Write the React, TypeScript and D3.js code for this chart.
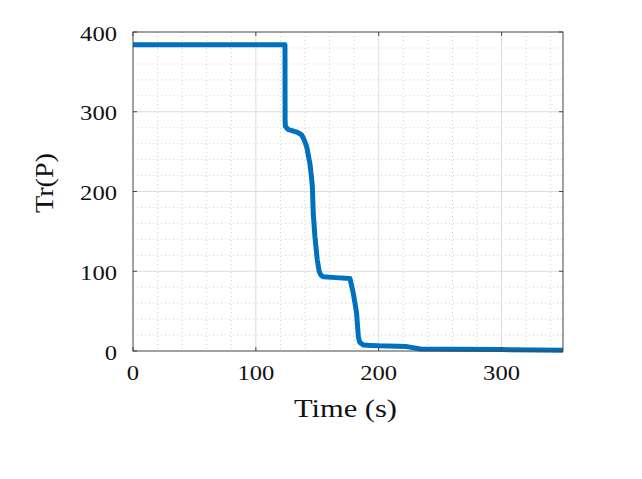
import React from "react";
import * as d3 from "d3";

const times = [0, 123.3, 123.7, 123.8, 124, 126, 130, 134, 137.3, 139.5, 141.4, 143, 144, 145, 146, 146.7, 148.1, 150, 151.6, 153, 155, 165, 176.6, 177.5, 179.3, 182, 183.4, 184.5, 187.5, 193, 200, 215, 223, 234, 260, 300, 350];
const values = [384, 384, 384, 290, 282, 278, 276, 274, 271, 264, 256, 243, 235, 222, 206, 173, 143, 114, 99.5, 95, 93, 92, 91, 85, 72.5, 47.5, 18, 11, 7.5, 7, 6.5, 6, 5.5, 2.5, 2.2, 1.8, 1];
const xTicks = [0, 100, 200, 300];
const yTicks = [0, 100, 200, 300, 400];
const xMinor = d3.range(0, 351, 20);
const yMinor = d3.range(0, 401, 20);

export default function App() {
  const W = 642, H = 479;
  const L = 133, R = 563, T = 32, B = 351;
  const x = d3.scaleLinear().domain([0, 350]).range([L, R]);
  const y = d3.scaleLinear().domain([0, 400]).range([B, T]);
  const pts: [number, number][] = times.map((t, i) => [t, values[i]]);
  const line = d3.line<[number, number]>().x(d => x(d[0])).y(d => y(d[1]));
  const font = "'Liberation Serif', 'DejaVu Serif', serif";
  const lw = (v: number) => String(v).length * 12.3;
  return (
    <svg width={W} height={H} style={{ position: "absolute", left: 0, top: 0, background: "#fff" }}>
      <rect x={0} y={0} width={W} height={H} fill="#fff" />
      {xMinor.filter(v => v % 100 !== 0).map(v => (
        <line key={"xm" + v} x1={x(v)} x2={x(v)} y1={T} y2={B} stroke="#cfcfcf" strokeWidth={1} strokeDasharray="1,3" />
      ))}
      {yMinor.filter(v => v % 100 !== 0).map(v => (
        <line key={"ym" + v} x1={L} x2={R} y1={y(v)} y2={y(v)} stroke="#cfcfcf" strokeWidth={1} strokeDasharray="1,3" />
      ))}
      {xTicks.filter(v => v > 0).map(v => (
        <line key={"xg" + v} x1={x(v)} x2={x(v)} y1={T} y2={B} stroke="#dcdcdc" strokeWidth={1} />
      ))}
      {yTicks.filter(v => v > 0 && v < 400).map(v => (
        <line key={"yg" + v} x1={L} x2={R} y1={y(v)} y2={y(v)} stroke="#dcdcdc" strokeWidth={1} />
      ))}
      <path d={line(pts) || ""} fill="none" stroke="#0072BD" strokeWidth={5} strokeLinejoin="round" />
      <rect x={L} y={T} width={R - L} height={B - T} fill="none" stroke="#444" strokeWidth={1} />
      {xTicks.map(v => (
        <g key={"xt" + v}>
          <line x1={x(v)} x2={x(v)} y1={B} y2={B - 4} stroke="#444" />
          <line x1={x(v)} x2={x(v)} y1={T} y2={T + 4} stroke="#444" />
          <text x={x(v)} y={380} textAnchor="middle" fontFamily={font} fontSize={22} fill="#111"
            textLength={lw(v)} lengthAdjust="spacingAndGlyphs">{v}</text>
        </g>
      ))}
      {yTicks.map(v => (
        <g key={"yt" + v}>
          <line x1={L} x2={L + 4} y1={y(v)} y2={y(v)} stroke="#444" />
          <line x1={R} x2={R - 4} y1={y(v)} y2={y(v)} stroke="#444" />
          <text x={117} y={y(v) + 8.5} textAnchor="end" fontFamily={font} fontSize={22} fill="#111"
            textLength={lw(v)} lengthAdjust="spacingAndGlyphs">{v}</text>
        </g>
      ))}
      <text x={345.5} y={417} textAnchor="middle" fontFamily={font} fontSize={25} fill="#111"
        textLength={103} lengthAdjust="spacingAndGlyphs">Time (s)</text>
      <text transform={`translate(53,183) rotate(-90)`} textAnchor="middle" fontFamily={font} fontSize={25} fill="#111"
        textLength={60} lengthAdjust="spacingAndGlyphs">Tr(P)</text>
    </svg>
  );
}
